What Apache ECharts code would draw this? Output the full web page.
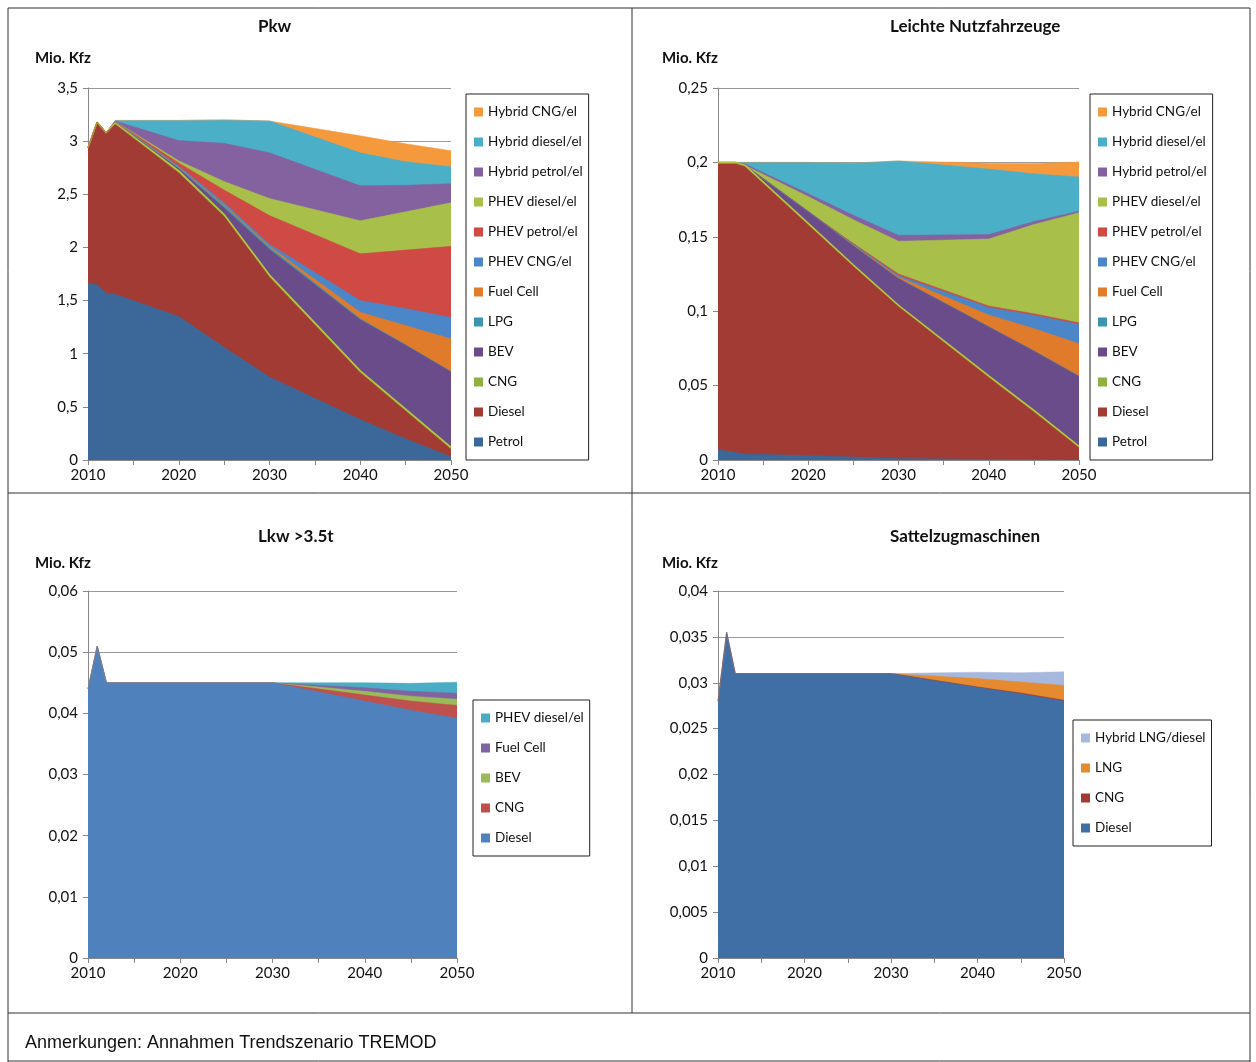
<!DOCTYPE html>
<html><head><meta charset="utf-8">
<script src="https://cdn.jsdelivr.net/npm/echarts@6/dist/echarts.min.js"></script>
<style>html,body{margin:0;padding:0;background:#fff}#c{width:1256px;height:1062px}</style>
</head><body><div id="c"></div>
<script>
const years = [2010,2011,2012,2013,2020,2025,2030,2040,2045,2050];

const pkwNames = ['Petrol','Diesel','CNG','BEV','LPG','Fuel Cell','PHEV CNG/el','PHEV petrol/el','PHEV diesel/el','Hybrid petrol/el','Hybrid diesel/el','Hybrid CNG/el'];
const pkwPetrol = [1.66,1.65,1.57,1.56,1.35,1.06,0.78,0.38,0.20,0.03];
const pkwDiesel = [1.28,1.53,1.51,1.60,1.35,1.23,0.94,0.44,0.26,0.07];
const pkwCNG = [0,0,0,0.01,0.02,0.02,0.02,0.02,0.02,0.02];
const pkwBEV = [0,0,0,0.005,0.02,0.06,0.24,0.48,0.60,0.71];
const pkwLPG = [0,0,0,0.005,0.01,0.02,0.02,0.01,0.005,0];
const pkwFC = [0,0,0,0,0.005,0.01,0.01,0.06,0.18,0.31];
const pkwPhevCNG = [0,0,0,0,0.01,0.02,0.02,0.11,0.16,0.20];
const pkwPhevPetrol = [0,0,0,0.003,0.03,0.12,0.27,0.44,0.55,0.67];
const pkwPhevDiesel = [0,0,0,0.002,0.02,0.08,0.16,0.31,0.36,0.41];
const pkwHybPetrol = [0,0,0,0.005,0.19,0.36,0.43,0.33,0.25,0.18];
const pkwHybDiesel = [0,0,0,0.005,0.19,0.22,0.30,0.31,0.22,0.16];
const pkwHybCNG = [0,0,0,0,0,0,0,0.16,0.17,0.15];

const lnfPetrol = [0.007,0.006,0.005,0.004,0.003,0.002,0.001,0.0005,0.0003,0.0002];
const lnfDiesel = [0.192,0.193,0.194,0.193,0.155,0.128,0.102,0.055,0.032,0.008];
const lnfCNG = [0.001,0.001,0.001,0.001,0.001,0.001,0.001,0.001,0.001,0.001];
const lnfBEV = [0,0,0,0,0.008,0.013,0.018,0.033,0.040,0.047];
const lnfLPG = [0,0,0,0,0,0,0,0,0,0];
const lnfFC = [0,0,0,0,0,0.0005,0.001,0.008,0.015,0.022];
const lnfPhevCNG = [0,0,0,0,0,0.0005,0.001,0.005,0.009,0.013];
const lnfPhevPetrol = [0,0,0,0,0,0.0005,0.001,0.001,0.001,0.001];
const lnfPhevDiesel = [0,0,0,0,0.01,0.016,0.022,0.045,0.06,0.074];
const lnfHybPetrol = [0,0,0,0.001,0.002,0.003,0.004,0.003,0.002,0.001];
const lnfHybDiesel = [0,0,0,0.001,0.021,0.035,0.05,0.044,0.032,0.023];
const lnfHybCNG = [0,0,0,0,0,0,0,0.004,0.007,0.01];

const lkwNames = ['Diesel','CNG','BEV','Fuel Cell','PHEV diesel/el'];
const lkwDiesel = [0.044,0.051,0.045,0.045,0.045,0.045,0.045,0.042,0.0405,0.0392];
const lkwCNG = [0,0,0,0,0,0,0,0.001,0.0015,0.0021];
const lkwBEV = [0,0,0,0,0,0,0,0.0006,0.0008,0.001];
const lkwFC = [0,0,0,0,0,0,0,0.0006,0.0008,0.001];
const lkwPhevDiesel = [0,0,0,0,0,0,0,0.0008,0.0013,0.0018];

const szmNames = ['Diesel','CNG','LNG','Hybrid LNG/diesel'];
const szmDiesel = [0.028,0.0355,0.031,0.031,0.031,0.031,0.031,0.0295,0.0288,0.028];
const szmCNG = [0,0,0,0,0,0,0,0.00005,0.00008,0.0001];
const szmLNG = [0,0,0,0,0,0,0,0.0009,0.0012,0.0016];
const szmHyb = [0,0,0,0,0,0,0,0.0007,0.001,0.0015];

const pkwColors = ['#3c6899','#a33b35','#8fb040','#6b4c8a','#3d94ae','#e07b2b','#4a86c8','#cf4a45','#a8c04a','#8462a0','#4bafc8','#f59a3c'];
const lkwColors = ['#4f81bd','#c0504d','#9bbb59','#8064a2','#4bacc6'];
const szmColors = ['#3f6fa4','#a33b35','#e58a2e','#a6b8dd'];

const FONT = 'Lato, "Open Sans", sans-serif';
const panels = [
  {title:'Pkw', cx:258, names:pkwNames, colors:pkwColors, data:[pkwPetrol,pkwDiesel,pkwCNG,pkwBEV,pkwLPG,pkwFC,pkwPhevCNG,pkwPhevPetrol,pkwPhevDiesel,pkwHybPetrol,pkwHybDiesel,pkwHybCNG],
   grid:{left:88,top:88,width:363,height:372}, max:3.5, interval:0.5, legend:{left:466,top:94,width:142,height:362}, ylab:35},
  {title:'Leichte Nutzfahrzeuge', cx:890, names:pkwNames, colors:pkwColors, data:[lnfPetrol,lnfDiesel,lnfCNG,lnfBEV,lnfLPG,lnfFC,lnfPhevCNG,lnfPhevPetrol,lnfPhevDiesel,lnfHybPetrol,lnfHybDiesel,lnfHybCNG],
   grid:{left:718,top:88,width:361,height:372}, max:0.25, interval:0.05, legend:{left:1090,top:94,width:144,height:362}, ylab:662},
  {title:'Lkw >3.5t', cx:258, names:lkwNames, colors:lkwColors, data:[lkwDiesel,lkwCNG,lkwBEV,lkwFC,lkwPhevDiesel],
   grid:{left:88,top:591,width:369,height:367}, max:0.06, interval:0.01, legend:{left:473,top:700,width:136,height:156}, ylab:35, ttop:538},
  {title:'Sattelzugmaschinen', cx:890, names:szmNames, colors:szmColors, data:[szmDiesel,szmCNG,szmLNG,szmHyb],
   grid:{left:718,top:591,width:346,height:367}, max:0.04, interval:0.005, legend:{left:1073,top:720,width:160,height:120}, ylab:662, ttop:538}
];

const option = {animation:false, grid:[], xAxis:[], yAxis:[], series:[], legend:[], graphic:[]};
const suffix = i => '\u200b'.repeat(i+1);
panels.forEach((p,i)=>{
  option.grid.push(Object.assign({containLabel:false}, p.grid));
  option.xAxis.push({type:'value', gridIndex:i, min:2010, max:2050, interval:10,
    axisLine:{lineStyle:{color:'#888'}}, axisTick:{length:5,lineStyle:{color:'#888'}},
    minorTick:{show:true, splitNumber:2, length:5, lineStyle:{color:'#888'}},
    splitLine:{show:false}, axisLabel:{color:'#111', fontSize:15, fontFamily:FONT, margin:8, formatter:v=>String(v)}});
  option.yAxis.push({type:'value', gridIndex:i, min:0, max:p.max, interval:p.interval,
    axisLine:{show:true, lineStyle:{color:'#888'}}, axisTick:{show:true, length:5, lineStyle:{color:'#888'}},
    splitLine:{lineStyle:{color:'#999'}},
    axisLabel:{color:'#111', fontSize:15, fontFamily:FONT, margin:10,
      formatter:v=>String(+v.toFixed(4)).replace('.',',')}});
  const cum = [];
  let run = years.map(()=>0);
  p.data.forEach(arr=>{ run = run.map((v,j)=>v+arr[j]); cum.push(run.slice()); });
  const legendData = [];
  const ser = [];
  p.names.forEach((n,k)=>{
    const nm = n + suffix(i);
    legendData.unshift({name:nm, itemStyle:{color:p.colors[k]}});
    const isCNG = (n==='CNG' && i<2);
    ser.push({type:'line', name:nm, xAxisIndex:i, yAxisIndex:i, z:2,
      symbol:'none', data:years.map((y,j)=>[y,cum[k][j]]),
      lineStyle:{width:isCNG?1.5:0.5, color:isCNG?'#b8c83a':p.colors[k]},
      areaStyle:{color:p.colors[k], opacity:1}, itemStyle:{color:p.colors[k]}});
  });
  ser.reverse().forEach(s=>option.series.push(s));
  option.legend.push({orient:'vertical', left:p.legend.left, top:p.legend.top, width:p.legend.width, height:p.legend.height,
    data:legendData, icon:'rect', itemWidth:9, itemHeight:9, itemGap:14,
    padding:[10,6,10,8], borderColor:'#222', borderWidth:1,
    textStyle:{fontSize:13.5, fontFamily:FONT, color:'#111', lineHeight:16}});
  const tt = p.ttop || 28;
  option.graphic.push({type:'text', left:p.cx, top:tt-10, style:{text:p.title, font:'bold 17px '+FONT, fill:'#111', textAlign:'center'}});
  option.graphic.push({type:'text', left:p.ylab, top:tt+(p.ttop?18:23), style:{text:'Mio. Kfz', font:'bold 15px '+FONT, fill:'#111'}});
});
const L = (x1,y1,x2,y2)=>({type:'line', shape:{x1,y1,x2,y2}, style:{stroke:'#333', lineWidth:1}, silent:true});
option.graphic.push({type:'group', children:[
  L(8,8,1250,8), L(8,8,8,1062), L(1250,8,1250,1062), L(8,1013,1250,1013), L(632,8,632,1013), L(8,493,1250,493), L(8,1061,1250,1061)
]});
option.graphic.push({type:'text', left:25, top:1034, style:{text:'Anmerkungen: Annahmen Trendszenario TREMOD', font:'18px "Liberation Sans", Arial, sans-serif', fill:'#111'}});
const ch = echarts.init(document.getElementById('c'));
ch.setOption(option);
</script></body></html>
